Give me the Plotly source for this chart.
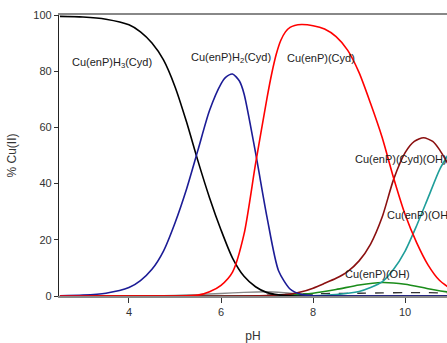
import plotly.graph_objects as go

# ---- data ----
ph_black = [2.5, 3.0, 3.5, 4.0, 4.25, 4.5, 4.75, 5.0, 5.25, 5.5, 5.75, 6.0, 6.25, 6.5, 6.75, 7.0, 7.25, 7.5, 8.0, 9.0, 10.0, 11.0]
h3_cyd = [99.5, 99.3, 98.5, 96.5, 94.0, 90.0, 84.0, 74.5, 62.0, 48.0, 35.0, 23.5, 13.5, 7.0, 3.3, 1.2, 0.4, 0.1, 0, 0, 0, 0]

ph_blue = [2.5, 3.0, 3.5, 4.0, 4.25, 4.5, 4.75, 5.0, 5.25, 5.5, 5.75, 6.0, 6.1, 6.25, 6.4, 6.5, 6.75, 7.0, 7.25, 7.5, 7.75, 8.0, 9.0, 10.0, 11.0]
h2_cyd = [0.1, 0.3, 1.0, 3.0, 5.5, 9.5, 16.0, 26.0, 38.0, 52.0, 66.0, 75.5, 77.8, 79.0, 76.5, 72.0, 51.0, 28.0, 9.0, 2.5, 0.5, 0.1, 0, 0, 0]

ph_red = [2.5, 5.0, 5.5, 5.75, 6.0, 6.25, 6.5, 6.75, 7.0, 7.1, 7.2, 7.3, 7.4, 7.5, 7.6, 7.75, 8.0, 8.25, 8.5, 8.75, 9.0, 9.25, 9.5, 9.75, 10.0, 10.25, 10.5, 10.75, 11.0]
cyd = [0, 0, 0.3, 1.5, 3.8, 8.5, 22.0, 47.0, 70.5, 79.0, 86.0, 91.0, 94.0, 95.6, 96.3, 96.6, 96.2, 95.0, 92.3, 87.5, 79.5, 68.5, 56.5, 42.0, 29.0, 19.0, 11.0, 5.5, 2.5]

ph_maroon = [2.5, 7.0, 7.5, 7.75, 8.0, 8.25, 8.5, 8.75, 9.0, 9.25, 9.5, 9.75, 10.0, 10.2, 10.4, 10.6, 10.75, 11.0]
cyd_oh = [0, 0.2, 0.6, 1.5, 2.8, 4.5, 6.3, 8.7, 12.5, 18.5, 28.0, 41.5, 51.0, 55.0, 56.3, 55.0, 52.0, 45.0]

ph_teal = [2.5, 8.0, 8.5, 9.0, 9.25, 9.5, 9.75, 10.0, 10.25, 10.5, 10.75, 11.0]
oh2 = [0, 0.1, 0.5, 1.6, 3.0, 5.0, 9.5, 16.0, 25.0, 35.0, 45.0, 52.0]

ph_green = [2.5, 7.0, 7.5, 8.0, 8.5, 9.0, 9.5, 10.0, 10.5, 11.0]
oh1 = [0, 0, 0.3, 1.0, 2.3, 3.9, 4.8, 4.2, 2.6, 1.2]

ph_gray = [4.5, 5.0, 5.5, 6.0, 6.5, 7.0, 7.5, 8.0]
minor_a = [0, 0.2, 0.5, 0.9, 1.3, 1.5, 1.0, 0.5]

ph_dash = [7.0, 7.5, 8.0, 8.5, 9.0, 9.5, 10.0, 10.5, 11.0]
minor_b = [0.3, 0.6, 0.8, 0.9, 1.0, 1.1, 1.2, 1.2, 1.0]

x_ticks = [4, 6, 8, 10]
y_ticks = [0, 20, 40, 60, 80, 100]

labels = ["Cu(enP)H<sub>3</sub>(Cyd)", "Cu(enP)H<sub>2</sub>(Cyd)", "Cu(enP)(Cyd)",
          "Cu(enP)(Cyd)(OH)", "Cu(enP)(OH)<sub>2</sub>", "Cu(enP)(OH)"]
label_x = [2.72, 5.31, 7.39, 8.87, 9.57, 8.66]
label_y = [83.0, 84.7, 84.7, 48.9, 28.4, 8.0]

FONT = "Liberation Sans, Arial, sans-serif"

fig = go.Figure()

def add(x, y, color, dash="solid", width=1.6):
    fig.add_trace(go.Scatter(x=x, y=y, mode="lines",
                             line=dict(color=color, width=width, shape="spline", smoothing=0.7, dash=dash),
                             showlegend=False, hoverinfo="skip"))

add(ph_gray, minor_a, "#888888", width=1.4)
add(ph_dash, minor_b, "#333333", dash="dash", width=1.4)
add(ph_green, oh1, "#1a8c1a")
add(ph_teal, oh2, "#1f9e9a")
add(ph_maroon, cyd_oh, "#8b1010")
add(ph_black, h3_cyd, "#000000")
add(ph_blue, h2_cyd, "#1c1c96")
add(ph_red, cyd, "#ff0000")

for t, lx, ly in zip(labels, label_x, label_y):
    fig.add_annotation(x=lx, y=ly, text=t, showarrow=False, xref="x", yref="y",
                       xanchor="left", yanchor="middle",
                       font=dict(family=FONT, size=11, color="#222222"))

fig.update_layout(
    width=447, height=343,
    margin=dict(l=59, r=0, t=15, b=45),
    paper_bgcolor="white", plot_bgcolor="white",
    font=dict(family=FONT, size=11, color="#333333"),
)
fig.update_xaxes(range=[2.48, 10.91], tickvals=x_ticks, ticks="outside", ticklen=5,
                 tickcolor="#333333", showline=True, linecolor="#888888", linewidth=1.5,
                 mirror=True, showgrid=False, zeroline=False,
                 title=dict(text="pH", standoff=17, font=dict(family=FONT, size=12)))
fig.update_yaxes(range=[0, 100], tickvals=y_ticks, ticks="outside", ticklen=4,
                 tickcolor="#333333", showline=True, linecolor="#222222", linewidth=1.2,
                 showgrid=False, zeroline=False,
                 title=dict(text="% Cu(II)", standoff=14, font=dict(family=FONT, size=12)))

fig.write_html("out.html")
